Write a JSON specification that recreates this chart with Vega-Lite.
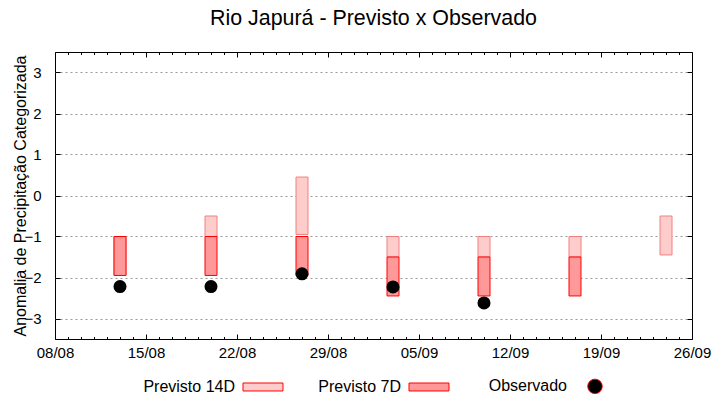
{
  "$schema": "https://vega.github.io/schema/vega-lite/v6.json",
  "width": 637,
  "height": 287,
  "autosize": {"type": "none"},
  "padding": {"left": 55, "top": 52, "right": 28, "bottom": 61},
  "background": "white",
  "title": {"text": "Rio Japurá - Previsto x Observado", "font": "Liberation Sans", "fontSize": 21.4, "fontWeight": "normal", "color": "black", "offset": 22, "anchor": "middle"},
  "data": {"values": [
    {"date": "2023-08-13T00:00:00", "p14_lo": -1.95, "p14_hi": -1, "p7_lo": -1.95, "p7_hi": -1, "obs": -2.22},
    {"date": "2023-08-20T00:00:00", "p14_lo": -1, "p14_hi": -0.5, "p7_lo": -1.95, "p7_hi": -1, "obs": -2.22},
    {"date": "2023-08-27T00:00:00", "p14_lo": -0.95, "p14_hi": 0.45, "p7_lo": -1.95, "p7_hi": -1, "obs": -1.91},
    {"date": "2023-09-03T00:00:00", "p14_lo": -1.5, "p14_hi": -1, "p7_lo": -2.45, "p7_hi": -1.5, "obs": -2.23},
    {"date": "2023-09-10T00:00:00", "p14_lo": -1.5, "p14_hi": -1, "p7_lo": -2.45, "p7_hi": -1.5, "obs": -2.62},
    {"date": "2023-09-17T00:00:00", "p14_lo": -1.5, "p14_hi": -1, "p7_lo": -2.45, "p7_hi": -1.5, "obs": null},
    {"date": "2023-09-24T00:00:00", "p14_lo": -1.45, "p14_hi": -0.5, "p7_lo": null, "p7_hi": null, "obs": null}
  ]},
  "resolve": {"axis": {"x": "independent", "y": "independent"}},
  "layer": [
    {
      "mark": {"type": "bar", "width": 12, "stroke": "#f08080", "strokeWidth": 1, "fillOpacity": 1},
      "encoding": {
        "x": {"field": "date", "type": "temporal",
          "scale": {"domain": [{"year": 2023, "month": 8, "date": 8}, {"year": 2023, "month": 9, "date": 26}], "padding": 0},
          "axis": {"orient": "bottom", "tickCount": {"interval": "day", "step": 1}, "title": null, "domain": false, "grid": false,
            "labelExpr": "indexof(['08/08','15/08','22/08','29/08','05/09','12/09','19/09','26/09'], timeFormat(datum.value,'%d/%m')) >= 0 ? timeFormat(datum.value,'%d/%m') : ''",
            "tickSize": {"condition": {"test": "indexof(['08/08','15/08','22/08','29/08','05/09','12/09','19/09','26/09'], timeFormat(datum.value,'%d/%m')) >= 0", "value": -5}, "value": -2.5},
            "tickColor": "black", "labelPadding": 11, "labelOverlap": false, "labelFlush": false, "labelBound": false,
            "labelFont": "Liberation Sans", "labelFontSize": 15, "labelColor": "black"}},
        "y": {"field": "p14_hi", "type": "quantitative",
          "scale": {"domain": [-3.5, 3.5], "nice": false, "zero": false},
          "axis": {"orient": "left", "values": [-3, -2, -1, 0, 1, 2, 3], "title": "Anomalia de Precipitação Categorizada",
            "titleFont": "Liberation Sans", "titleFontSize": 16, "titleFontWeight": "normal", "titleColor": "black", "titlePadding": -5,
            "grid": true, "gridDash": [2, 3], "gridColor": "#999999", "gridOpacity": 1, "gridWidth": 1,
            "domain": false, "tickSize": -5, "tickColor": "black", "labelPadding": 19,
            "labelFont": "Liberation Sans", "labelFontSize": 15, "labelColor": "black"}},
        "y2": {"field": "p14_lo"},
        "color": {"datum": "Previsto 14D", "type": "nominal",
          "scale": {"domain": ["Previsto 14D", "Previsto 7D", "Observado"], "range": ["#ffcccc", "#ff9999", "#000000"]},
          "legend": {"orient": "bottom", "direction": "horizontal", "title": null, "offset": 15,
            "labelFont": "Liberation Sans", "labelFontSize": 16, "labelColor": "black",
            "labelAlign": "right", "labelOffset": -36, "symbolOffset": 112, "columnPadding": 24, "symbolSize": 210, "symbolOpacity": 1, "symbolStrokeWidth": 1,
            "symbolType": {"expr": "datum.value === 'Observado' ? 'circle' : 'M-2.76,-0.55H2.76V0.55H-2.76Z'"},
            "symbolStrokeColor": {"expr": "datum.value === 'Previsto 14D' ? '#f08080' : datum.value === 'Previsto 7D' ? '#ff0000' : '#000000'"}}}
      }
    },
    {
      "mark": {"type": "bar", "width": 12, "stroke": "#ff0000", "strokeWidth": 1, "fillOpacity": 1},
      "encoding": {
        "x": {"field": "date", "type": "temporal",
          "axis": {"orient": "top", "tickCount": {"interval": "day", "step": 1}, "title": null, "domain": false, "grid": false, "labels": false,
            "tickSize": {"condition": {"test": "indexof(['08/08','15/08','22/08','29/08','05/09','12/09','19/09','26/09'], timeFormat(datum.value,'%d/%m')) >= 0", "value": -5}, "value": -2.5},
            "tickColor": "black"}},
        "y": {"field": "p7_hi", "type": "quantitative",
          "axis": {"orient": "right", "values": [-3, -2, -1, 0, 1, 2, 3], "title": null, "labels": false, "grid": false, "domain": false, "tickSize": -5, "tickColor": "black"}},
        "y2": {"field": "p7_lo"},
        "color": {"datum": "Previsto 7D", "type": "nominal"}
      }
    },
    {
      "mark": {"type": "point", "filled": true, "size": 170, "opacity": 1, "shape": "circle"},
      "encoding": {
        "x": {"field": "date", "type": "temporal", "axis": null},
        "y": {"field": "obs", "type": "quantitative", "axis": null},
        "color": {"datum": "Observado", "type": "nominal"}
      }
    }
  ],
  "config": {
    "view": {"stroke": "black", "strokeWidth": 1},
    "font": "Liberation Sans",
    "legend": {"layout": {"bottom": {"anchor": "middle"}}}
  }
}
